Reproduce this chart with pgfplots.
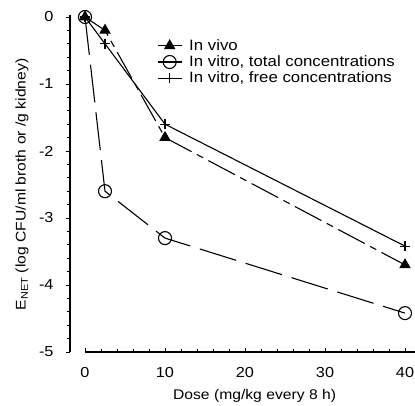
\documentclass[border=0pt]{standalone}
\usepackage{fontspec}
\setmainfont[FakeStretch=1.12]{Liberation Sans}
\usepackage{pgfplots}
\pgfplotsset{compat=1.18}
\begin{document}
\begin{tikzpicture}
\path[use as bounding box] (-70pt,-54pt) rectangle (345pt,352pt);
\begin{axis}[
  at={(0pt,0pt)}, anchor=south west,
  scale only axis,
  width=345pt, height=335pt,
  xmin=-1.875, xmax=41.25,
  ymin=-5, ymax=0,
  axis x line*=bottom,
  axis y line*=left,
  x axis line style={-, line width=1.6pt, shorten <=15pt},
  y axis line style={-, line width=1.6pt, shorten >=-2pt},
  xtick={0,10,20,30,40},
  xticklabels={0,10,20,30,40},
  minor x tick num=4,
  ytick={-5,-4,-3,-2,-1,0},
  yticklabels={-5,-4,-3,-2,-1,0},
  minor y tick num=4,
  x tick style={line width=0.9pt, black},
  y tick style={line width=0.9pt, black},
  xtick align=inside,
  ytick align=outside,
  major tick length=4pt,
  minor tick length=3pt,
  tick label style={font=\fontsize{14.5}{16}\selectfont},
  xticklabel style={yshift=-12pt},
  yticklabel style={xshift=-9pt},
  label style={font=\fontsize{14}{16}\selectfont},
  xlabel={Dose (mg/kg every 8 h)},
  ylabel={E\textsubscript{NET} (log CFU/ml broth or /g kidney)},
  xlabel style={at={(axis description cs:0.535,0)}, anchor=center, yshift=-44pt},
  ylabel style={at={(axis description cs:-0.139,0.5)}, anchor=center},
  clip=false,
  legend style={draw=none, fill=none, at={(axis description cs:0.252,0.933)}, anchor=north west,
    font=\fontsize{15}{16}\selectfont, row sep=3.5pt, inner sep=0pt,
    nodes={inner xsep=4pt, inner ysep=0pt},
    legend cell align=left},
  legend image code/.code={\draw[mark repeat=2,mark phase=2,#1] plot coordinates {(0pt,0pt) (12pt,0pt) (24pt,0pt)};},
  legend image post style={solid},
]
\addplot[black, line width=1.1pt, dash pattern=on 30pt off 6pt on 7pt off 6pt,
  mark=triangle*, mark size=5.6pt, mark options={solid, fill=black}]
  coordinates {(0,0) (2.5,-0.2) (10,-1.8) (40,-3.7)};
\addlegendentry{\hspace{3pt}In vivo}
\addplot[black, line width=1.1pt, dash pattern=on 38pt off 10pt,
  mark=o, mark size=6.5pt, mark options={solid, fill=white, line width=1.1pt}]
  coordinates {(0,0) (2.5,-2.6) (10,-3.3) (40,-4.42)};
\addlegendentry{\hspace{3pt}In vitro, total concentrations}
\addplot[black, line width=1.1pt,
  mark=+, mark size=4.8pt, mark options={solid, line width=1.1pt}]
  coordinates {(0,0) (2.5,-0.4) (10,-1.6) (40,-3.42)};
\addlegendentry{\hspace{3pt}In vitro, free concentrations}
\end{axis}
\end{tikzpicture}
\end{document}
